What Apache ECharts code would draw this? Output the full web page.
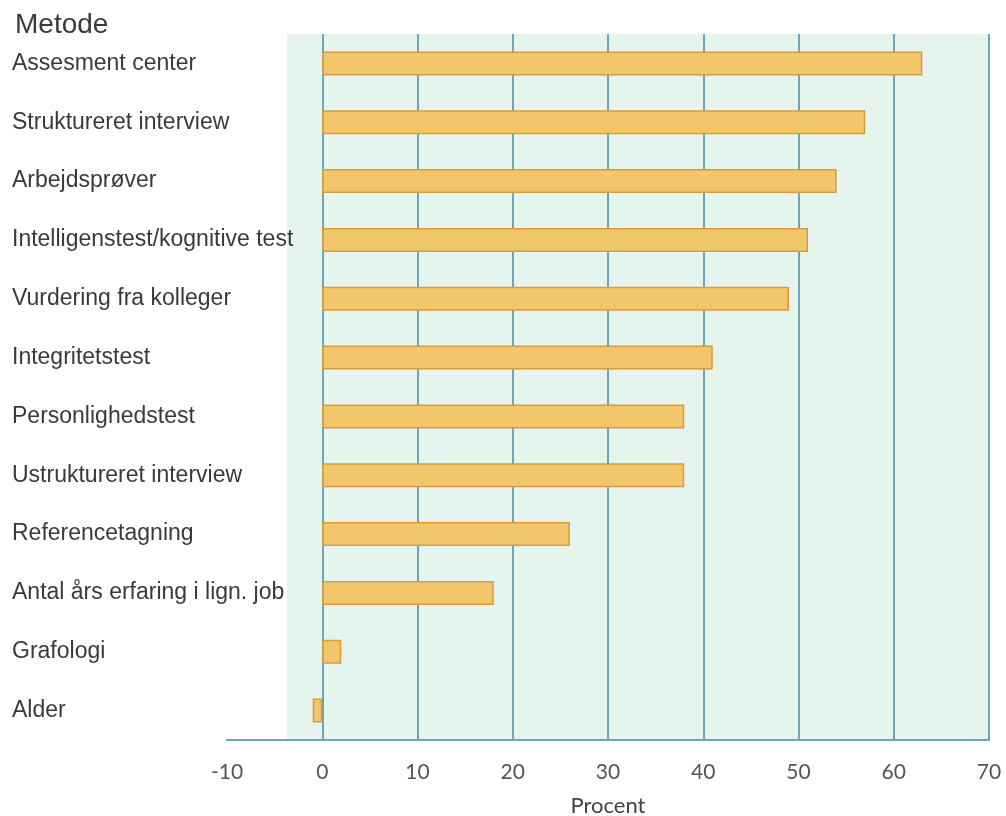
<!DOCTYPE html>
<html><head><meta charset="utf-8">
<script src="https://cdn.jsdelivr.net/npm/echarts@6/dist/echarts.min.js"></script>
<style>html,body{margin:0;padding:0;background:#fff}#c{width:1006px;height:816px}</style>
</head><body><div id="c"></div>
<script>
const categories = ["Assesment center","Struktureret interview","Arbejdsprøver","Intelligenstest/kognitive test","Vurdering fra kolleger","Integritetstest","Personlighedstest","Ustruktureret interview","Referencetagning","Antal års erfaring i lign. job","Grafologi","Alder"];
const values = [63, 57, 54, 51, 49, 41, 38, 38, 26, 18, 2, -1];
const xTicks = [-10, 0, 10, 20, 30, 40, 50, 60, 70];

const chart = echarts.init(document.getElementById('c'), null, {renderer:'canvas'});
chart.setOption({
  animation:false,
  title:{text:'Metode', left:10, top:6, textStyle:{fontFamily:'Liberation Sans, Arial', fontSize:28, fontWeight:'normal', color:'#3a3a3a'}},
  grid:[
    {left:287, right:17, top:34, bottom:76, show:true, backgroundColor:'#e6f4ee', borderWidth:0, z:-1, outerBoundsMode:'none', containLabel:false},
    {left:227, right:17, top:34, bottom:76, outerBoundsMode:'none', containLabel:false}
  ],
  xAxis:[
    {gridIndex:0, type:'value', show:false, min:0, max:1},
    {gridIndex:1, type:'value', min:xTicks[0], max:xTicks[xTicks.length-1], interval:10,
    name:'Procent', nameLocation:'middle', nameGap:55,
    nameTextStyle:{fontFamily:'Lato, Open Sans', fontSize:22, color:'#444'},
    axisLine:{show:true, lineStyle:{color:'#6ea6b3', width:2}},
    axisTick:{show:false},
    axisLabel:{margin:22, fontFamily:'Lato, Open Sans', fontSize:21, color:'#555'},
    splitLine:{show:true, showMinLine:false, lineStyle:{color:'#6ea6b3', width:2}}
  }],
  yAxis:[
    {gridIndex:0, type:'value', show:false, min:0, max:1},
    {gridIndex:1, type:'category', data:categories, inverse:true, z:10,
    axisLine:{show:false}, axisTick:{show:false}, splitLine:{show:false},
    axisLabel:{align:'left', margin:215, padding:[7,0,0,0], fontFamily:'Liberation Sans, Arial', fontSize:23, color:'#3a3a3a'}
  }],
  series:[{type:'bar', xAxisIndex:1, yAxisIndex:1, data:values, barWidth:24,
    itemStyle:{color:'#f2c76c', borderColor:'#d99a3c', borderWidth:1.5}
  }]
});
</script></body></html>
